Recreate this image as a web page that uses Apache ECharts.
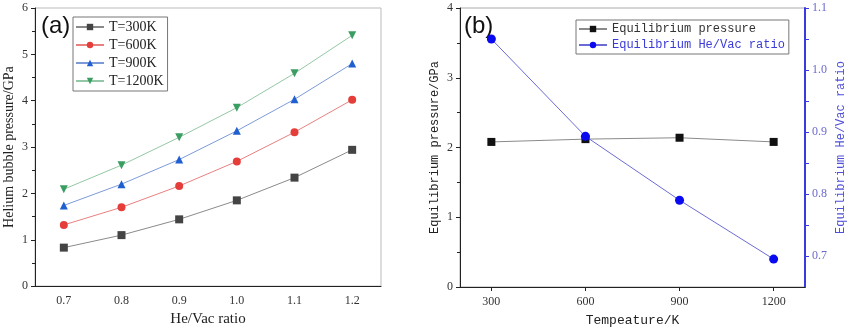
<!DOCTYPE html>
<html><head><meta charset="utf-8">
<script src="https://cdn.jsdelivr.net/npm/echarts@6/dist/echarts.min.js"></script>
<style>html,body{margin:0;padding:0;background:#fff}#c{width:850px;height:332px}</style>
</head><body><div id="c"></div>
<script>
// ---- data ----
const ratioCats = ['0.7', '0.8', '0.9', '1.0', '1.1', '1.2'];
const p300  = [0.83, 1.10, 1.44, 1.85, 2.34, 2.94];
const p600  = [1.32, 1.70, 2.16, 2.69, 3.32, 4.02];
const p900  = [1.74, 2.20, 2.73, 3.35, 4.03, 4.80];
const p1200 = [2.09, 2.61, 3.21, 3.85, 4.59, 5.41];
const temps = [300, 600, 900, 1200];
const eqPressure = [2.08, 2.12, 2.14, 2.08];
const eqRatio = [1.05, 0.893, 0.79, 0.695];
const tempTicks = [300, 600, 900, 1200];
const ratioTicks = [0.7, 0.8, 0.9, 1.0, 1.1];
const ratioMinorTicks = [0.7, 0.75, 0.8, 0.85, 0.9, 0.95, 1.0, 1.05, 1.1];

const serif = '"Liberation Serif", "DejaVu Serif", serif';
const mono = '"Liberation Mono", "DejaVu Sans Mono", monospace';
const chart = echarts.init(document.getElementById('c'));

function mk(name, data, lineColor, markColor, symbol, rot) {
  return {
    name, type: 'line', xAxisIndex: 0, yAxisIndex: 0, data,
    symbol, symbolSize: 8, symbolRotate: rot || 0,
    lineStyle: { color: lineColor, width: 1 },
    itemStyle: { color: markColor },
    animation: false
  };
}

chart.setOption({
  animation: false,
  textStyle: { fontFamily: serif },
  grid: [
    { left: 35, right: 469, top: 8, bottom: 45, show: true, borderColor: '#bbb', borderWidth: 1 },
    { left: 460, right: 45, top: 8, bottom: 45, show: true, borderColor: '#aaa', borderWidth: 1 }
  ],
  legend: [
    {
      orient: 'vertical', left: 73, top: 17, itemWidth: 28, itemHeight: 8, itemGap: 4,
      padding: [3, 4, 3, 2], borderColor: '#777', borderWidth: 1,
      textStyle: { fontFamily: serif, fontSize: 14, color: '#222' },
      data: ['T=300K', 'T=600K', 'T=900K', 'T=1200K']
    },
    {
      orient: 'vertical', left: 576, top: 20, itemWidth: 28, itemHeight: 8, itemGap: 4,
      padding: [3, 4, 3, 2], borderColor: '#777', borderWidth: 1,
      textStyle: { fontFamily: mono, fontSize: 12 },
      data: [
        { name: 'Equilibrium pressure', textStyle: { color: '#333' } },
        { name: 'Equilibrium He/Vac ratio', textStyle: { color: '#3a3ad8' } }
      ]
    }
  ],
  xAxis: [
    {
      type: 'category', gridIndex: 0, data: ratioCats, boundaryGap: true,
      name: 'He/Vac ratio', nameLocation: 'middle', nameGap: 24,
      nameTextStyle: { fontFamily: serif, fontSize: 15, color: '#222' },
      axisLine: { lineStyle: { color: '#222', width: 1 } },
      axisTick: { alignWithLabel: true, length: 4, lineStyle: { color: '#222' } },
      axisLabel: { fontFamily: serif, fontSize: 12, color: '#333', margin: 9 },
      splitLine: { show: false }
    },
    {
      type: 'value', gridIndex: 1, min: 200, max: 1300,
      name: 'Tempeature/K', nameLocation: 'middle', nameGap: 27,
      nameTextStyle: { fontFamily: mono, fontSize: 13, color: '#222' },
      axisLine: { lineStyle: { color: '#222', width: 1 } },
      axisTick: { customValues: tempTicks, length: 4, lineStyle: { color: '#222' } },
      axisLabel: { customValues: tempTicks, fontFamily: serif, fontSize: 12, color: '#333', margin: 9,
        formatter: v => String(Math.round(v)) },
      splitLine: { show: false }
    }
  ],
  yAxis: [
    {
      type: 'value', gridIndex: 0, min: 0, max: 6, interval: 1,
      name: 'Helium bubble pressure/GPa', nameLocation: 'middle', nameGap: 19,
      nameTextStyle: { fontFamily: serif, fontSize: 14, color: '#222' },
      axisLine: { show: true, lineStyle: { color: '#222', width: 1 } },
      axisTick: { show: true, length: 4, lineStyle: { color: '#222' } },
      minorTick: { show: true, splitNumber: 2, length: 3, lineStyle: { color: '#222' } },
      axisLabel: { fontFamily: serif, fontSize: 12, color: '#333', margin: 7 },
      splitLine: { show: false }
    },
    {
      type: 'value', gridIndex: 1, min: 0, max: 4, interval: 1,
      name: 'Equilibrium pressure/GPa', nameLocation: 'middle', nameGap: 19,
      nameTextStyle: { fontFamily: mono, fontSize: 12, color: '#222' },
      axisLine: { show: true, lineStyle: { color: '#222', width: 1 } },
      axisTick: { show: true, length: 4, lineStyle: { color: '#222' } },
      minorTick: { show: true, splitNumber: 2, length: 3, lineStyle: { color: '#222' } },
      axisLabel: { fontFamily: serif, fontSize: 12, color: '#333', margin: 7 },
      splitLine: { show: false }
    },
    {
      type: 'value', gridIndex: 1, position: 'right', min: 0.65, max: 1.1,
      name: 'Equilibrium He/Vac ratio', nameLocation: 'middle', nameGap: 30,
      nameTextStyle: { fontFamily: mono, fontSize: 12, color: '#5050d8' },
      axisLine: { show: true, lineStyle: { color: '#3a3ae0', width: 2 } },
      axisTick: { show: true, customValues: ratioMinorTicks, length: 4, lineStyle: { color: '#3a3ae0' } },
      axisLabel: { customValues: ratioTicks, fontFamily: serif, fontSize: 12, color: '#6a6ad0', margin: 7,
        formatter: v => Number(v).toFixed(1) },
      splitLine: { show: false }
    }
  ],
  graphic: [
    { type: 'text', left: 41, top: 14, style: { text: '(a)', font: '24px "Liberation Sans", Arial, sans-serif', fill: '#111' } },
    { type: 'text', left: 464, top: 14, style: { text: '(b)', font: '24px "Liberation Sans", Arial, sans-serif', fill: '#111' } }
  ],
  series: [
    mk('T=300K', p300, '#8a8a8a', '#444', 'rect'),
    mk('T=600K', p600, '#e88080', '#e53e3a', 'circle'),
    mk('T=900K', p900, '#7d9ad8', '#1f5fd0', 'triangle'),
    mk('T=1200K', p1200, '#93c7a5', '#3a9d62', 'triangle', 180),
    {
      name: 'Equilibrium pressure', type: 'line', xAxisIndex: 1, yAxisIndex: 1,
      data: temps.map((t, i) => [t, eqPressure[i]]),
      symbol: 'rect', symbolSize: 8,
      lineStyle: { color: '#8a8a8a', width: 1 }, itemStyle: { color: '#111' }
    },
    {
      name: 'Equilibrium He/Vac ratio', type: 'line', xAxisIndex: 1, yAxisIndex: 2,
      data: temps.map((t, i) => [t, eqRatio[i]]),
      symbol: 'circle', symbolSize: 9,
      lineStyle: { color: '#6b6bd6', width: 1 }, itemStyle: { color: '#0a0af0' }
    }
  ]
});
</script></body></html>
